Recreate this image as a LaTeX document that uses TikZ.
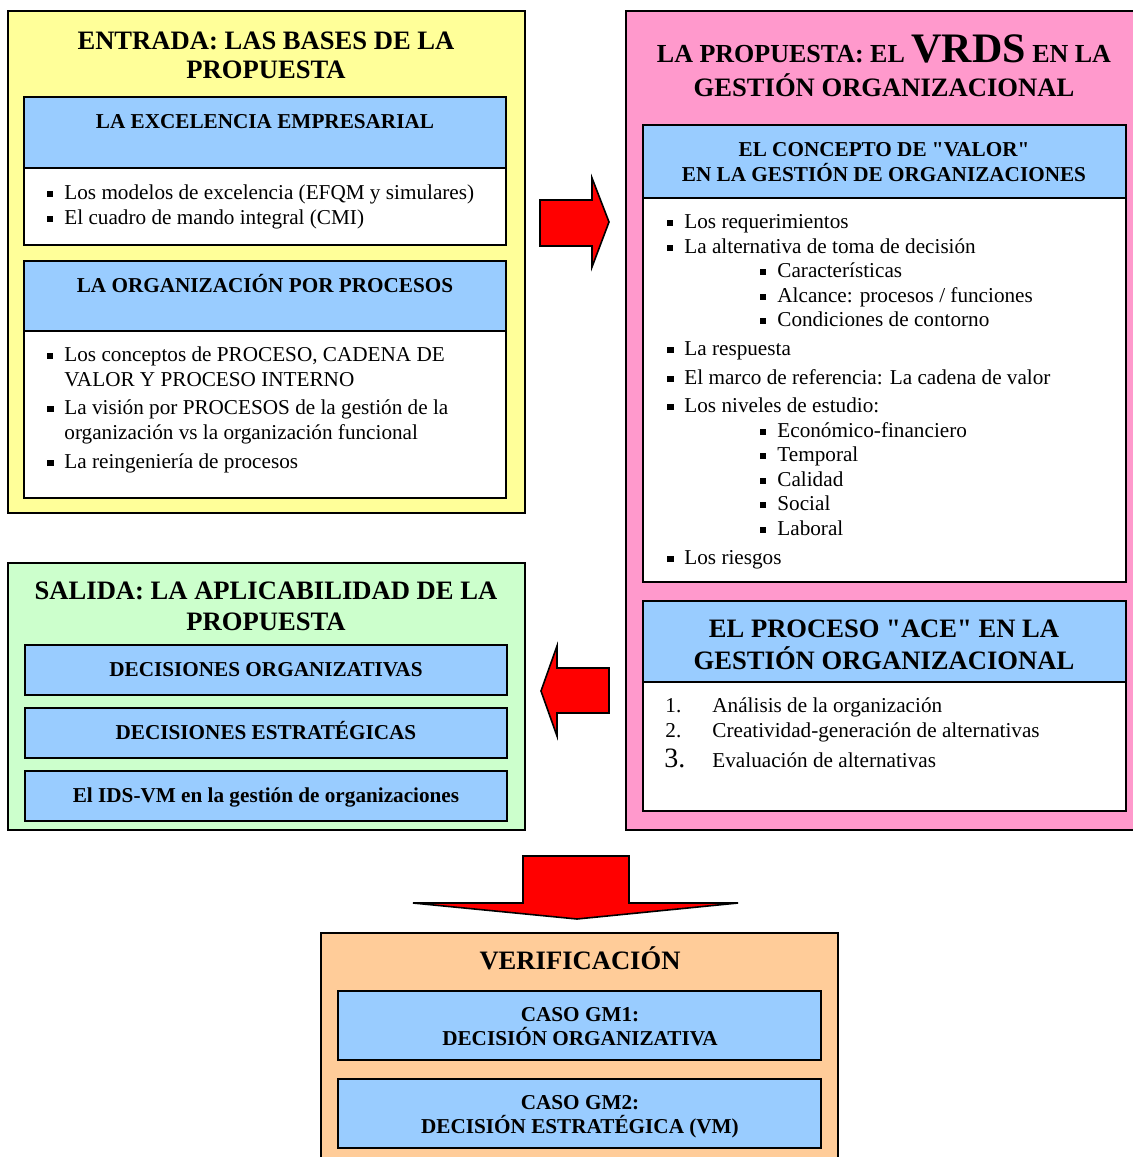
\documentclass[tikz,border=0pt]{standalone}
\usepackage{fontspec}
\setmainfont{Liberation Serif}[Ligatures=TeXOff]
\usetikzlibrary{fit}
\definecolor{cyel}{HTML}{FFFF99}
\definecolor{cpink}{HTML}{FF99CC}
\definecolor{cblue}{HTML}{99CCFF}
\definecolor{cgreen}{HTML}{CCFFCC}
\definecolor{corange}{HTML}{FFCC99}
\definecolor{arrred}{HTML}{FF0000}
\newcommand\bul{\makebox[8.5pt][l]{\rule[1.1pt]{2.7pt}{2.7pt}}}
\newcommand\bulb{\makebox[8.5pt][l]{\rule[0.9pt]{3.3pt}{3.3pt}}}
\newcommand\mkbox[6]{\coordinate (#1-a) at (#3,#4); \coordinate (#1-b) at (#5,#6); \node[box, fill=#2, fit=(#1-a)(#1-b)] (#1) {};}
\begin{document}
\begin{tikzpicture}[x=0.5pt,y=-0.5pt,
  box/.style={draw=black, line width=0.8pt, inner sep=0pt},
  hd/.style={font=\fontsize{13.3}{15}\selectfont\bfseries, inner sep=0pt, anchor=base},
  sh/.style={font=\fontsize{10.6}{12}\selectfont\bfseries, inner sep=0pt, anchor=base},
  txt/.style={font=\fontsize{10.6}{12}\selectfont, inner sep=0pt, anchor=base west},
  blockarrow/.style={fill=arrred, draw=black, line width=0.8pt, line join=miter}]
\useasboundingbox (0,0) rectangle (1133,1157);
\clip (0,0) rectangle (1133,1157);
\fill[white] (0,0) rectangle (1133,1157);

% ENTRADA
\mkbox{entrada}{cyel}{8}{11}{525}{513}
\node[hd] (t1a) at (266,49) {ENTRADA: LAS BASES DE LA};
\node[hd] (t1b) at (266,78) {PROPUESTA};
\mkbox{exch}{cblue}{24}{97}{506}{168}
\node[sh] (exct) at (265,128) {LA EXCELENCIA EMPRESARIAL};
\mkbox{excb}{white}{24}{168}{506}{245}
\node[txt] (e1) at (47,199) {\bul Los modelos de excelencia (EFQM y simulares)};
\node[txt] (e2) at (47,224) {\bul El cuadro de mando integral (CMI)};
\mkbox{proch}{cblue}{24}{261}{506}{331}
\node[sh] (proct) at (265,292) {LA ORGANIZACIÓN POR PROCESOS};
\mkbox{procb}{white}{24}{331}{506}{498}
\node[txt] (p1) at (47,361) {\bul Los conceptos de PROCESO, CADENA DE};
\node[txt] (p1b) at (64,386) {VALOR Y PROCESO INTERNO};
\node[txt] (p2) at (47,414) {\bulb La visión por PROCESOS de la gestión de la};
\node[txt] (p2b) at (64,439) {organización vs la organización funcional};
\node[txt] (p3) at (47,468) {\bulb La reingeniería de procesos};

% PROPUESTA
\mkbox{prop}{cpink}{626}{11}{1145}{830}
\node[inner sep=0pt, anchor=base] (t2a) at (884,62) {\fontsize{13}{15}\selectfont\bfseries LA PROPUESTA: EL {\fontsize{21}{24}\selectfont\bfseries VRDS} EN LA};
\node[hd] (t2b) at (884,96) {GESTIÓN ORGANIZACIONAL};
\mkbox{valh}{cblue}{643}{125}{1126}{198}
\node[sh] (valt1) at (884,156) {EL CONCEPTO DE "VALOR"};
\node[sh] (valt2) at (884,181) {EN LA GESTIÓN DE ORGANIZACIONES};
\mkbox{valb}{white}{643}{198}{1126}{582}
\node[txt] (v1) at (667,228) {\bul Los requerimientos};
\node[txt] (v2) at (667,253) {\bul La alternativa de toma de decisión};
\node[txt] (v2a) at (760,277) {\bul Características};
\node[txt] (v2b) at (760,302) {\bul Alcance: procesos / funciones};
\node[txt] (v2c) at (760,326) {\bul Condiciones de contorno};
\node[txt] (v3) at (667,355) {\bulb La respuesta};
\node[txt] (v4) at (667,384) {\bulb El marco de referencia: La cadena de valor};
\node[txt] (v5) at (667,412) {\bulb Los niveles de estudio:};
\node[txt] (v5a) at (760,437) {\bul Económico-financiero};
\node[txt] (v5b) at (760,461) {\bul Temporal};
\node[txt] (v5c) at (760,486) {\bul Calidad};
\node[txt] (v5d) at (760,510) {\bul Social};
\node[txt] (v5e) at (760,535) {\bul Laboral};
\node[txt] (v6) at (667,564) {\bulb Los riesgos};
\mkbox{aceh}{cblue}{643}{601}{1126}{682}
\node[hd] (acet1) at (884,637) {EL PROCESO "ACE" EN LA};
\node[hd] (acet2) at (884,669) {GESTIÓN ORGANIZACIONAL};
\mkbox{aceb}{white}{643}{682}{1126}{811}
\node[txt] (n1) at (665,712) {1.};
\node[txt] (a1) at (712,712) {Análisis de la organización};
\node[txt] (n2) at (665,737) {2.};
\node[txt] (a2) at (712,737) {Creatividad-generación de alternativas};
\node[txt, font=\fontsize{14}{16}\selectfont] (n3) at (664,767) {3.};
\node[txt] (a3) at (712,767) {Evaluación de alternativas};

% SALIDA
\mkbox{salida}{cgreen}{8}{563}{525}{830}
\node[hd] (t3a) at (266,599) {SALIDA: LA APLICABILIDAD DE LA};
\node[hd] (t3b) at (266,630) {PROPUESTA};
\mkbox{s1}{cblue}{25}{645}{507}{695}
\node[sh] (s1t) at (266,676) {DECISIONES ORGANIZATIVAS};
\mkbox{s2}{cblue}{25}{708}{507}{758}
\node[sh] (s2t) at (266,739) {DECISIONES ESTRATÉGICAS};
\mkbox{s3}{cblue}{25}{771}{507}{821}
\node[sh] (s3t) at (266,802) {El IDS-VM en la gestión de organizaciones};

% VERIFICACION
\mkbox{verif}{corange}{321}{933}{838}{1170}
\node[hd] (t4) at (580,969) {VERIFICACIÓN};
\mkbox{g1}{cblue}{338}{991}{821}{1060}
\node[sh] (g1a) at (580,1021) {CASO GM1:};
\node[sh] (g1b) at (580,1045) {DECISIÓN ORGANIZATIVA};
\mkbox{g2}{cblue}{338}{1079}{821}{1148}
\node[sh] (g2a) at (580,1109) {CASO GM2:};
\node[sh] (g2b) at (580,1133) {DECISIÓN ESTRATÉGICA (VM)};

% block arrows
\draw[blockarrow] (540,200) -- (592,200) -- (592,178) -- (609,222) -- (592,267) -- (592,246) -- (540,246) -- cycle;
\draw[blockarrow] (609,668) -- (557,668) -- (557,646) -- (541,691) -- (557,736) -- (557,713) -- (609,713) -- cycle;
\draw[blockarrow] (523,856) -- (629,856) -- (629,903) -- (738,903) -- (577,919) -- (413,903) -- (523,903) -- cycle;
\end{tikzpicture}
\end{document}
